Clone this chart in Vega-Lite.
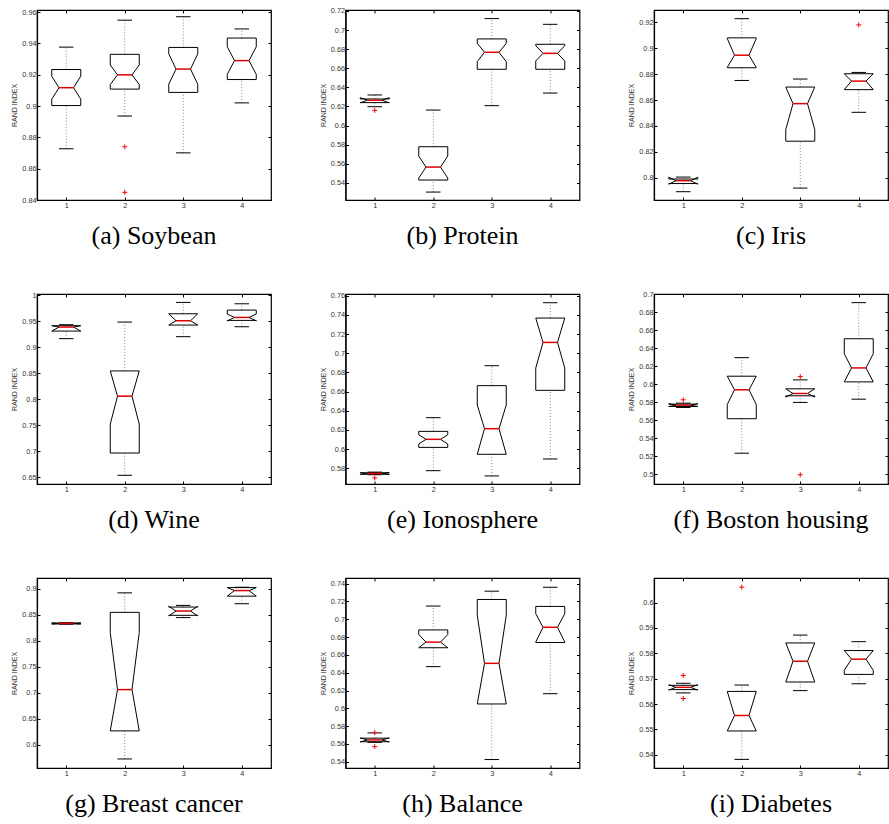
{
"$schema":"https://vega.github.io/schema/vega-lite/v6.json",
"background":"white",
"padding":{"left":10,"top":6,"right":0,"bottom":0},
"columns":3,
"bounds":"flush",
"spacing":{"row":94,"column":74.5},
"data":{"values":[
{"p":"a","g":1,"wlo":0.8727,"q1":0.9003,"nlo":0.9044,"med":0.9117,"nhi":0.919,"q3":0.9233,"whi":0.9376},
{"p":"a","g":2,"wlo":0.8936,"q1":0.9108,"nlo":0.9137,"med":0.9199,"nhi":0.9262,"q3":0.933,"whi":0.9548},
{"p":"a","g":3,"wlo":0.8701,"q1":0.9087,"nlo":0.9139,"med":0.9236,"nhi":0.9333,"q3":0.9374,"whi":0.957},
{"p":"a","g":4,"wlo":0.902,"q1":0.9169,"nlo":0.9202,"med":0.929,"nhi":0.9378,"q3":0.9434,"whi":0.9492},
{"p":"a","g":2,"o":0.874},{"p":"a","g":2,"o":0.8449},
{"p":"b","g":1,"wlo":0.6197,"q1":0.624,"nlo":0.6238,"med":0.6265,"nhi":0.6292,"q3":0.6278,"whi":0.632},
{"p":"b","g":2,"wlo":0.5303,"q1":0.5429,"nlo":0.545,"med":0.5565,"nhi":0.568,"q3":0.5778,"whi":0.6162},
{"p":"b","g":3,"wlo":0.6208,"q1":0.6589,"nlo":0.6669,"med":0.6767,"nhi":0.6861,"q3":0.6907,"whi":0.712},
{"p":"b","g":4,"wlo":0.634,"q1":0.6589,"nlo":0.6676,"med":0.6756,"nhi":0.6836,"q3":0.6851,"whi":0.706},
{"p":"b","g":1,"o":0.6159},
{"p":"c","g":1,"wlo":0.7892,"q1":0.7955,"nlo":0.795,"med":0.7977,"nhi":0.8004,"q3":0.799,"whi":0.8005},
{"p":"c","g":2,"wlo":0.8751,"q1":0.8849,"nlo":0.8852,"med":0.8946,"nhi":0.9075,"q3":0.908,"whi":0.9228},
{"p":"c","g":3,"wlo":0.792,"q1":0.8282,"nlo":0.8372,"med":0.8572,"nhi":0.87,"q3":0.87,"whi":0.8762},
{"p":"c","g":4,"wlo":0.8505,"q1":0.868,"nlo":0.868,"med":0.8746,"nhi":0.8803,"q3":0.8803,"whi":0.8813},
{"p":"c","g":4,"o":0.918},
{"p":"d","g":1,"wlo":0.9162,"q1":0.9308,"nlo":0.9308,"med":0.9385,"nhi":0.9411,"q3":0.9411,"whi":0.943},
{"p":"d","g":2,"wlo":0.6537,"q1":0.6965,"nlo":0.752,"med":0.8057,"nhi":0.8542,"q3":0.8542,"whi":0.9481},
{"p":"d","g":3,"wlo":0.92,"q1":0.9423,"nlo":0.9423,"med":0.9506,"nhi":0.964,"q3":0.964,"whi":0.9858},
{"p":"d","g":4,"wlo":0.9391,"q1":0.9513,"nlo":0.9503,"med":0.957,"nhi":0.9634,"q3":0.9711,"whi":0.9832},
{"p":"e","g":1,"wlo":0.5733,"q1":0.5738,"nlo":0.5735,"med":0.5745,"nhi":0.5755,"q3":0.5753,"whi":0.576},
{"p":"e","g":2,"wlo":0.5775,"q1":0.6018,"nlo":0.6053,"med":0.6102,"nhi":0.615,"q3":0.6185,"whi":0.6328},
{"p":"e","g":3,"wlo":0.572,"q1":0.5946,"nlo":0.5946,"med":0.6213,"nhi":0.646,"q3":0.6662,"whi":0.687},
{"p":"e","g":4,"wlo":0.5897,"q1":0.6613,"nlo":0.6846,"med":0.7113,"nhi":0.7367,"q3":0.7367,"whi":0.7527},
{"p":"e","g":1,"o":0.5699},
{"p":"f","g":1,"wlo":0.574,"q1":0.5751,"nlo":0.575,"med":0.5766,"nhi":0.5782,"q3":0.5777,"whi":0.5788},
{"p":"f","g":2,"wlo":0.5232,"q1":0.5615,"nlo":0.5773,"med":0.5936,"nhi":0.6087,"q3":0.6087,"whi":0.6293},
{"p":"f","g":3,"wlo":0.5796,"q1":0.5869,"nlo":0.5855,"med":0.5895,"nhi":0.5947,"q3":0.5947,"whi":0.6046},
{"p":"f","g":4,"wlo":0.5832,"q1":0.6024,"nlo":0.6024,"med":0.6179,"nhi":0.6337,"q3":0.6503,"whi":0.6904},
{"p":"f","g":1,"o":0.5825},{"p":"f","g":3,"o":0.6083},{"p":"f","g":3,"o":0.4993},
{"p":"g","g":1,"wlo":0.832,"q1":0.8326,"nlo":0.8323,"med":0.8334,"nhi":0.8345,"q3":0.8342,"whi":0.8348},
{"p":"g","g":2,"wlo":0.5724,"q1":0.6265,"nlo":0.6265,"med":0.706,"nhi":0.816,"q3":0.8548,"whi":0.8924},
{"p":"g","g":3,"wlo":0.8447,"q1":0.8491,"nlo":0.848,"med":0.8574,"nhi":0.8665,"q3":0.865,"whi":0.8682},
{"p":"g","g":4,"wlo":0.8714,"q1":0.886,"nlo":0.886,"med":0.8968,"nhi":0.9025,"q3":0.9025,"whi":0.9032},
{"p":"h","g":1,"wlo":0.5618,"q1":0.5625,"nlo":0.5622,"med":0.5645,"nhi":0.5668,"q3":0.5665,"whi":0.5724},
{"p":"h","g":2,"wlo":0.6468,"q1":0.668,"nlo":0.668,"med":0.6743,"nhi":0.6828,"q3":0.688,"whi":0.7148},
{"p":"h","g":3,"wlo":0.5425,"q1":0.6049,"nlo":0.6049,"med":0.6505,"nhi":0.7044,"q3":0.7222,"whi":0.7315},
{"p":"h","g":4,"wlo":0.6164,"q1":0.6739,"nlo":0.6745,"med":0.691,"nhi":0.7062,"q3":0.7144,"whi":0.7359},
{"p":"h","g":1,"o":0.5728},{"p":"h","g":1,"o":0.557},
{"p":"i","g":1,"wlo":0.5644,"q1":0.5657,"nlo":0.5655,"med":0.5666,"nhi":0.5676,"q3":0.5674,"whi":0.5682},
{"p":"i","g":2,"wlo":0.5382,"q1":0.5494,"nlo":0.5494,"med":0.5555,"nhi":0.565,"q3":0.565,"whi":0.5675},
{"p":"i","g":3,"wlo":0.5653,"q1":0.5687,"nlo":0.5687,"med":0.5769,"nhi":0.5841,"q3":0.5841,"whi":0.5872},
{"p":"i","g":4,"wlo":0.568,"q1":0.5717,"nlo":0.5733,"med":0.5777,"nhi":0.5811,"q3":0.5811,"whi":0.5846},
{"p":"i","g":1,"o":0.5713},{"p":"i","g":1,"o":0.5622},{"p":"i","g":2,"o":0.6061}
]},
"concat":[
{"width":234,"height":190,"title":"(a) Soybean","transform":[{"filter":"datum.p=='a'"}],"resolve":{"axis":{"x":"independent","y":"independent"}},
"layer":[{"encoding":{"x":{"field":"g","type":"quantitative","scale":{"domain":[0.5,4.5]},"axis":{"values":[1,2,3,4],"title":null}}},
"layer":[
{"mark":{"type":"rule","color":"#888","strokeDash":[1,2]},"encoding":{"y":{"field":"q3","type":"quantitative","scale":{"domain":[0.84,0.9613],"nice":false,"zero":false},"axis":{"values":[0.84,0.86,0.88,0.9,0.92,0.94,0.96],"tickCount":30,"title":"RAND INDEX"}},"y2":{"field":"whi"}}},
{"mark":{"type":"rule","color":"#888","strokeDash":[1,2]},"encoding":{"y":{"field":"wlo","type":"quantitative"},"y2":{"field":"q1"}}},
{"mark":{"type":"rule","xOffset":-7.25,"x2Offset":7.25},"encoding":{"x2":{"field":"g"},"y":{"field":"whi","type":"quantitative"}}},
{"mark":{"type":"rule","xOffset":-7.25,"x2Offset":7.25},"encoding":{"x2":{"field":"g"},"y":{"field":"wlo","type":"quantitative"}}},
{"mark":{"type":"rule","xOffset":-14.5,"x2Offset":14.5},"encoding":{"x2":{"field":"g"},"y":{"field":"q3","type":"quantitative"}}},
{"mark":{"type":"rule","xOffset":-14.5,"x2Offset":14.5},"encoding":{"x2":{"field":"g"},"y":{"field":"q1","type":"quantitative"}}},
{"mark":{"type":"rule","xOffset":-14.5},"encoding":{"y":{"field":"q3","type":"quantitative"},"y2":{"field":"nhi"}}},
{"mark":{"type":"rule","xOffset":14.5},"encoding":{"y":{"field":"q3","type":"quantitative"},"y2":{"field":"nhi"}}},
{"mark":{"type":"rule","xOffset":-14.5},"encoding":{"y":{"field":"nlo","type":"quantitative"},"y2":{"field":"q1"}}},
{"mark":{"type":"rule","xOffset":14.5},"encoding":{"y":{"field":"nlo","type":"quantitative"},"y2":{"field":"q1"}}},
{"mark":{"type":"rule","xOffset":-14.5,"x2Offset":-7.25},"encoding":{"x2":{"field":"g"},"y":{"field":"nhi","type":"quantitative"},"y2":{"field":"med"}}},
{"mark":{"type":"rule","xOffset":14.5,"x2Offset":7.25},"encoding":{"x2":{"field":"g"},"y":{"field":"nhi","type":"quantitative"},"y2":{"field":"med"}}},
{"mark":{"type":"rule","xOffset":-14.5,"x2Offset":-7.25},"encoding":{"x2":{"field":"g"},"y":{"field":"nlo","type":"quantitative"},"y2":{"field":"med"}}},
{"mark":{"type":"rule","xOffset":14.5,"x2Offset":7.25},"encoding":{"x2":{"field":"g"},"y":{"field":"nlo","type":"quantitative"},"y2":{"field":"med"}}},
{"mark":{"type":"rule","color":"#e00000","strokeWidth":1.5,"xOffset":-7.25,"x2Offset":7.25},"encoding":{"x2":{"field":"g"},"y":{"field":"med","type":"quantitative"}}},
{"mark":{"type":"point","shape":"M-1,0H1M0,-1V1","filled":false,"color":"#ff0000","strokeWidth":1,"size":25,"opacity":1},"encoding":{"y":{"field":"o","type":"quantitative"}}}
]},
{"mark":{"type":"point","opacity":0},"encoding":{"x":{"field":"g","type":"quantitative","axis":{"orient":"top","labels":false,"domain":false,"title":null,"values":[1,2,3,4]}},"y":{"field":"q3","type":"quantitative","axis":{"orient":"right","labels":false,"domain":false,"title":null,"tickCount":30,"values":[0.84,0.86,0.88,0.9,0.92,0.94,0.96]}}}}
]},
{"width":234,"height":190,"title":"(b) Protein","transform":[{"filter":"datum.p=='b'"}],"resolve":{"axis":{"x":"independent","y":"independent"}},
"layer":[{"encoding":{"x":{"field":"g","type":"quantitative","scale":{"domain":[0.5,4.5]},"axis":{"values":[1,2,3,4],"title":null}}},
"layer":[
{"mark":{"type":"rule","color":"#888","strokeDash":[1,2]},"encoding":{"y":{"field":"q3","type":"quantitative","scale":{"domain":[0.522,0.721],"nice":false,"zero":false},"axis":{"values":[0.54,0.56,0.58,0.6,0.62,0.64,0.66,0.68,0.7,0.72],"tickCount":30,"title":"RAND INDEX"}},"y2":{"field":"whi"}}},
{"mark":{"type":"rule","color":"#888","strokeDash":[1,2]},"encoding":{"y":{"field":"wlo","type":"quantitative"},"y2":{"field":"q1"}}},
{"mark":{"type":"rule","xOffset":-7.25,"x2Offset":7.25},"encoding":{"x2":{"field":"g"},"y":{"field":"whi","type":"quantitative"}}},
{"mark":{"type":"rule","xOffset":-7.25,"x2Offset":7.25},"encoding":{"x2":{"field":"g"},"y":{"field":"wlo","type":"quantitative"}}},
{"mark":{"type":"rule","xOffset":-14.5,"x2Offset":14.5},"encoding":{"x2":{"field":"g"},"y":{"field":"q3","type":"quantitative"}}},
{"mark":{"type":"rule","xOffset":-14.5,"x2Offset":14.5},"encoding":{"x2":{"field":"g"},"y":{"field":"q1","type":"quantitative"}}},
{"mark":{"type":"rule","xOffset":-14.5},"encoding":{"y":{"field":"q3","type":"quantitative"},"y2":{"field":"nhi"}}},
{"mark":{"type":"rule","xOffset":14.5},"encoding":{"y":{"field":"q3","type":"quantitative"},"y2":{"field":"nhi"}}},
{"mark":{"type":"rule","xOffset":-14.5},"encoding":{"y":{"field":"nlo","type":"quantitative"},"y2":{"field":"q1"}}},
{"mark":{"type":"rule","xOffset":14.5},"encoding":{"y":{"field":"nlo","type":"quantitative"},"y2":{"field":"q1"}}},
{"mark":{"type":"rule","xOffset":-14.5,"x2Offset":-7.25},"encoding":{"x2":{"field":"g"},"y":{"field":"nhi","type":"quantitative"},"y2":{"field":"med"}}},
{"mark":{"type":"rule","xOffset":14.5,"x2Offset":7.25},"encoding":{"x2":{"field":"g"},"y":{"field":"nhi","type":"quantitative"},"y2":{"field":"med"}}},
{"mark":{"type":"rule","xOffset":-14.5,"x2Offset":-7.25},"encoding":{"x2":{"field":"g"},"y":{"field":"nlo","type":"quantitative"},"y2":{"field":"med"}}},
{"mark":{"type":"rule","xOffset":14.5,"x2Offset":7.25},"encoding":{"x2":{"field":"g"},"y":{"field":"nlo","type":"quantitative"},"y2":{"field":"med"}}},
{"mark":{"type":"rule","color":"#e00000","strokeWidth":1.5,"xOffset":-7.25,"x2Offset":7.25},"encoding":{"x2":{"field":"g"},"y":{"field":"med","type":"quantitative"}}},
{"mark":{"type":"point","shape":"M-1,0H1M0,-1V1","filled":false,"color":"#ff0000","strokeWidth":1,"size":25,"opacity":1},"encoding":{"y":{"field":"o","type":"quantitative"}}}
]},
{"mark":{"type":"point","opacity":0},"encoding":{"x":{"field":"g","type":"quantitative","axis":{"orient":"top","labels":false,"domain":false,"title":null,"values":[1,2,3,4]}},"y":{"field":"q3","type":"quantitative","axis":{"orient":"right","labels":false,"domain":false,"title":null,"tickCount":30,"values":[0.54,0.56,0.58,0.6,0.62,0.64,0.66,0.68,0.7,0.72]}}}}
]},
{"width":234,"height":190,"title":"(c) Iris","transform":[{"filter":"datum.p=='c'"}],"resolve":{"axis":{"x":"independent","y":"independent"}},
"layer":[{"encoding":{"x":{"field":"g","type":"quantitative","scale":{"domain":[0.5,4.5]},"axis":{"values":[1,2,3,4],"title":null}}},
"layer":[
{"mark":{"type":"rule","color":"#888","strokeDash":[1,2]},"encoding":{"y":{"field":"q3","type":"quantitative","scale":{"domain":[0.7828,0.9295],"nice":false,"zero":false},"axis":{"values":[0.8,0.82,0.84,0.86,0.88,0.9,0.92],"tickCount":30,"title":"RAND INDEX"}},"y2":{"field":"whi"}}},
{"mark":{"type":"rule","color":"#888","strokeDash":[1,2]},"encoding":{"y":{"field":"wlo","type":"quantitative"},"y2":{"field":"q1"}}},
{"mark":{"type":"rule","xOffset":-7.25,"x2Offset":7.25},"encoding":{"x2":{"field":"g"},"y":{"field":"whi","type":"quantitative"}}},
{"mark":{"type":"rule","xOffset":-7.25,"x2Offset":7.25},"encoding":{"x2":{"field":"g"},"y":{"field":"wlo","type":"quantitative"}}},
{"mark":{"type":"rule","xOffset":-14.5,"x2Offset":14.5},"encoding":{"x2":{"field":"g"},"y":{"field":"q3","type":"quantitative"}}},
{"mark":{"type":"rule","xOffset":-14.5,"x2Offset":14.5},"encoding":{"x2":{"field":"g"},"y":{"field":"q1","type":"quantitative"}}},
{"mark":{"type":"rule","xOffset":-14.5},"encoding":{"y":{"field":"q3","type":"quantitative"},"y2":{"field":"nhi"}}},
{"mark":{"type":"rule","xOffset":14.5},"encoding":{"y":{"field":"q3","type":"quantitative"},"y2":{"field":"nhi"}}},
{"mark":{"type":"rule","xOffset":-14.5},"encoding":{"y":{"field":"nlo","type":"quantitative"},"y2":{"field":"q1"}}},
{"mark":{"type":"rule","xOffset":14.5},"encoding":{"y":{"field":"nlo","type":"quantitative"},"y2":{"field":"q1"}}},
{"mark":{"type":"rule","xOffset":-14.5,"x2Offset":-7.25},"encoding":{"x2":{"field":"g"},"y":{"field":"nhi","type":"quantitative"},"y2":{"field":"med"}}},
{"mark":{"type":"rule","xOffset":14.5,"x2Offset":7.25},"encoding":{"x2":{"field":"g"},"y":{"field":"nhi","type":"quantitative"},"y2":{"field":"med"}}},
{"mark":{"type":"rule","xOffset":-14.5,"x2Offset":-7.25},"encoding":{"x2":{"field":"g"},"y":{"field":"nlo","type":"quantitative"},"y2":{"field":"med"}}},
{"mark":{"type":"rule","xOffset":14.5,"x2Offset":7.25},"encoding":{"x2":{"field":"g"},"y":{"field":"nlo","type":"quantitative"},"y2":{"field":"med"}}},
{"mark":{"type":"rule","color":"#e00000","strokeWidth":1.5,"xOffset":-7.25,"x2Offset":7.25},"encoding":{"x2":{"field":"g"},"y":{"field":"med","type":"quantitative"}}},
{"mark":{"type":"point","shape":"M-1,0H1M0,-1V1","filled":false,"color":"#ff0000","strokeWidth":1,"size":25,"opacity":1},"encoding":{"y":{"field":"o","type":"quantitative"}}}
]},
{"mark":{"type":"point","opacity":0},"encoding":{"x":{"field":"g","type":"quantitative","axis":{"orient":"top","labels":false,"domain":false,"title":null,"values":[1,2,3,4]}},"y":{"field":"q3","type":"quantitative","axis":{"orient":"right","labels":false,"domain":false,"title":null,"tickCount":30,"values":[0.8,0.82,0.84,0.86,0.88,0.9,0.92]}}}}
]},
{"width":234,"height":190,"title":"(d) Wine","transform":[{"filter":"datum.p=='d'"}],"resolve":{"axis":{"x":"independent","y":"independent"}},
"layer":[{"encoding":{"x":{"field":"g","type":"quantitative","scale":{"domain":[0.5,4.5]},"axis":{"values":[1,2,3,4],"title":null}}},
"layer":[
{"mark":{"type":"rule","color":"#888","strokeDash":[1,2]},"encoding":{"y":{"field":"q3","type":"quantitative","scale":{"domain":[0.637,1.002],"nice":false,"zero":false},"axis":{"values":[0.65,0.7,0.75,0.8,0.85,0.9,0.95,1],"tickCount":30,"title":"RAND INDEX"}},"y2":{"field":"whi"}}},
{"mark":{"type":"rule","color":"#888","strokeDash":[1,2]},"encoding":{"y":{"field":"wlo","type":"quantitative"},"y2":{"field":"q1"}}},
{"mark":{"type":"rule","xOffset":-7.25,"x2Offset":7.25},"encoding":{"x2":{"field":"g"},"y":{"field":"whi","type":"quantitative"}}},
{"mark":{"type":"rule","xOffset":-7.25,"x2Offset":7.25},"encoding":{"x2":{"field":"g"},"y":{"field":"wlo","type":"quantitative"}}},
{"mark":{"type":"rule","xOffset":-14.5,"x2Offset":14.5},"encoding":{"x2":{"field":"g"},"y":{"field":"q3","type":"quantitative"}}},
{"mark":{"type":"rule","xOffset":-14.5,"x2Offset":14.5},"encoding":{"x2":{"field":"g"},"y":{"field":"q1","type":"quantitative"}}},
{"mark":{"type":"rule","xOffset":-14.5},"encoding":{"y":{"field":"q3","type":"quantitative"},"y2":{"field":"nhi"}}},
{"mark":{"type":"rule","xOffset":14.5},"encoding":{"y":{"field":"q3","type":"quantitative"},"y2":{"field":"nhi"}}},
{"mark":{"type":"rule","xOffset":-14.5},"encoding":{"y":{"field":"nlo","type":"quantitative"},"y2":{"field":"q1"}}},
{"mark":{"type":"rule","xOffset":14.5},"encoding":{"y":{"field":"nlo","type":"quantitative"},"y2":{"field":"q1"}}},
{"mark":{"type":"rule","xOffset":-14.5,"x2Offset":-7.25},"encoding":{"x2":{"field":"g"},"y":{"field":"nhi","type":"quantitative"},"y2":{"field":"med"}}},
{"mark":{"type":"rule","xOffset":14.5,"x2Offset":7.25},"encoding":{"x2":{"field":"g"},"y":{"field":"nhi","type":"quantitative"},"y2":{"field":"med"}}},
{"mark":{"type":"rule","xOffset":-14.5,"x2Offset":-7.25},"encoding":{"x2":{"field":"g"},"y":{"field":"nlo","type":"quantitative"},"y2":{"field":"med"}}},
{"mark":{"type":"rule","xOffset":14.5,"x2Offset":7.25},"encoding":{"x2":{"field":"g"},"y":{"field":"nlo","type":"quantitative"},"y2":{"field":"med"}}},
{"mark":{"type":"rule","color":"#e00000","strokeWidth":1.5,"xOffset":-7.25,"x2Offset":7.25},"encoding":{"x2":{"field":"g"},"y":{"field":"med","type":"quantitative"}}}
]},
{"mark":{"type":"point","opacity":0},"encoding":{"x":{"field":"g","type":"quantitative","axis":{"orient":"top","labels":false,"domain":false,"title":null,"values":[1,2,3,4]}},"y":{"field":"q3","type":"quantitative","axis":{"orient":"right","labels":false,"domain":false,"title":null,"tickCount":30,"values":[0.65,0.7,0.75,0.8,0.85,0.9,0.95,1]}}}}
]},
{"width":234,"height":190,"title":"(e) Ionosphere","transform":[{"filter":"datum.p=='e'"}],"resolve":{"axis":{"x":"independent","y":"independent"}},
"layer":[{"encoding":{"x":{"field":"g","type":"quantitative","scale":{"domain":[0.5,4.5]},"axis":{"values":[1,2,3,4],"title":null}}},
"layer":[
{"mark":{"type":"rule","color":"#888","strokeDash":[1,2]},"encoding":{"y":{"field":"q3","type":"quantitative","scale":{"domain":[0.5636,0.7618],"nice":false,"zero":false},"axis":{"values":[0.58,0.6,0.62,0.64,0.66,0.68,0.7,0.72,0.74,0.76],"tickCount":30,"title":"RAND INDEX"}},"y2":{"field":"whi"}}},
{"mark":{"type":"rule","color":"#888","strokeDash":[1,2]},"encoding":{"y":{"field":"wlo","type":"quantitative"},"y2":{"field":"q1"}}},
{"mark":{"type":"rule","xOffset":-7.25,"x2Offset":7.25},"encoding":{"x2":{"field":"g"},"y":{"field":"whi","type":"quantitative"}}},
{"mark":{"type":"rule","xOffset":-7.25,"x2Offset":7.25},"encoding":{"x2":{"field":"g"},"y":{"field":"wlo","type":"quantitative"}}},
{"mark":{"type":"rule","xOffset":-14.5,"x2Offset":14.5},"encoding":{"x2":{"field":"g"},"y":{"field":"q3","type":"quantitative"}}},
{"mark":{"type":"rule","xOffset":-14.5,"x2Offset":14.5},"encoding":{"x2":{"field":"g"},"y":{"field":"q1","type":"quantitative"}}},
{"mark":{"type":"rule","xOffset":-14.5},"encoding":{"y":{"field":"q3","type":"quantitative"},"y2":{"field":"nhi"}}},
{"mark":{"type":"rule","xOffset":14.5},"encoding":{"y":{"field":"q3","type":"quantitative"},"y2":{"field":"nhi"}}},
{"mark":{"type":"rule","xOffset":-14.5},"encoding":{"y":{"field":"nlo","type":"quantitative"},"y2":{"field":"q1"}}},
{"mark":{"type":"rule","xOffset":14.5},"encoding":{"y":{"field":"nlo","type":"quantitative"},"y2":{"field":"q1"}}},
{"mark":{"type":"rule","xOffset":-14.5,"x2Offset":-7.25},"encoding":{"x2":{"field":"g"},"y":{"field":"nhi","type":"quantitative"},"y2":{"field":"med"}}},
{"mark":{"type":"rule","xOffset":14.5,"x2Offset":7.25},"encoding":{"x2":{"field":"g"},"y":{"field":"nhi","type":"quantitative"},"y2":{"field":"med"}}},
{"mark":{"type":"rule","xOffset":-14.5,"x2Offset":-7.25},"encoding":{"x2":{"field":"g"},"y":{"field":"nlo","type":"quantitative"},"y2":{"field":"med"}}},
{"mark":{"type":"rule","xOffset":14.5,"x2Offset":7.25},"encoding":{"x2":{"field":"g"},"y":{"field":"nlo","type":"quantitative"},"y2":{"field":"med"}}},
{"mark":{"type":"rule","color":"#e00000","strokeWidth":1.5,"xOffset":-7.25,"x2Offset":7.25},"encoding":{"x2":{"field":"g"},"y":{"field":"med","type":"quantitative"}}},
{"mark":{"type":"point","shape":"M-1,0H1M0,-1V1","filled":false,"color":"#ff0000","strokeWidth":1,"size":25,"opacity":1},"encoding":{"y":{"field":"o","type":"quantitative"}}}
]},
{"mark":{"type":"point","opacity":0},"encoding":{"x":{"field":"g","type":"quantitative","axis":{"orient":"top","labels":false,"domain":false,"title":null,"values":[1,2,3,4]}},"y":{"field":"q3","type":"quantitative","axis":{"orient":"right","labels":false,"domain":false,"title":null,"tickCount":30,"values":[0.58,0.6,0.62,0.64,0.66,0.68,0.7,0.72,0.74,0.76]}}}}
]},
{"width":234,"height":190,"title":"(f) Boston housing","transform":[{"filter":"datum.p=='f'"}],"resolve":{"axis":{"x":"independent","y":"independent"}},
"layer":[{"encoding":{"x":{"field":"g","type":"quantitative","scale":{"domain":[0.5,4.5]},"axis":{"values":[1,2,3,4],"title":null}}},
"layer":[
{"mark":{"type":"rule","color":"#888","strokeDash":[1,2]},"encoding":{"y":{"field":"q3","type":"quantitative","scale":{"domain":[0.489,0.7],"nice":false,"zero":false},"axis":{"values":[0.5,0.52,0.54,0.56,0.58,0.6,0.62,0.64,0.66,0.68,0.7],"tickCount":30,"title":"RAND INDEX"}},"y2":{"field":"whi"}}},
{"mark":{"type":"rule","color":"#888","strokeDash":[1,2]},"encoding":{"y":{"field":"wlo","type":"quantitative"},"y2":{"field":"q1"}}},
{"mark":{"type":"rule","xOffset":-7.25,"x2Offset":7.25},"encoding":{"x2":{"field":"g"},"y":{"field":"whi","type":"quantitative"}}},
{"mark":{"type":"rule","xOffset":-7.25,"x2Offset":7.25},"encoding":{"x2":{"field":"g"},"y":{"field":"wlo","type":"quantitative"}}},
{"mark":{"type":"rule","xOffset":-14.5,"x2Offset":14.5},"encoding":{"x2":{"field":"g"},"y":{"field":"q3","type":"quantitative"}}},
{"mark":{"type":"rule","xOffset":-14.5,"x2Offset":14.5},"encoding":{"x2":{"field":"g"},"y":{"field":"q1","type":"quantitative"}}},
{"mark":{"type":"rule","xOffset":-14.5},"encoding":{"y":{"field":"q3","type":"quantitative"},"y2":{"field":"nhi"}}},
{"mark":{"type":"rule","xOffset":14.5},"encoding":{"y":{"field":"q3","type":"quantitative"},"y2":{"field":"nhi"}}},
{"mark":{"type":"rule","xOffset":-14.5},"encoding":{"y":{"field":"nlo","type":"quantitative"},"y2":{"field":"q1"}}},
{"mark":{"type":"rule","xOffset":14.5},"encoding":{"y":{"field":"nlo","type":"quantitative"},"y2":{"field":"q1"}}},
{"mark":{"type":"rule","xOffset":-14.5,"x2Offset":-7.25},"encoding":{"x2":{"field":"g"},"y":{"field":"nhi","type":"quantitative"},"y2":{"field":"med"}}},
{"mark":{"type":"rule","xOffset":14.5,"x2Offset":7.25},"encoding":{"x2":{"field":"g"},"y":{"field":"nhi","type":"quantitative"},"y2":{"field":"med"}}},
{"mark":{"type":"rule","xOffset":-14.5,"x2Offset":-7.25},"encoding":{"x2":{"field":"g"},"y":{"field":"nlo","type":"quantitative"},"y2":{"field":"med"}}},
{"mark":{"type":"rule","xOffset":14.5,"x2Offset":7.25},"encoding":{"x2":{"field":"g"},"y":{"field":"nlo","type":"quantitative"},"y2":{"field":"med"}}},
{"mark":{"type":"rule","color":"#e00000","strokeWidth":1.5,"xOffset":-7.25,"x2Offset":7.25},"encoding":{"x2":{"field":"g"},"y":{"field":"med","type":"quantitative"}}},
{"mark":{"type":"point","shape":"M-1,0H1M0,-1V1","filled":false,"color":"#ff0000","strokeWidth":1,"size":25,"opacity":1},"encoding":{"y":{"field":"o","type":"quantitative"}}}
]},
{"mark":{"type":"point","opacity":0},"encoding":{"x":{"field":"g","type":"quantitative","axis":{"orient":"top","labels":false,"domain":false,"title":null,"values":[1,2,3,4]}},"y":{"field":"q3","type":"quantitative","axis":{"orient":"right","labels":false,"domain":false,"title":null,"tickCount":30,"values":[0.5,0.52,0.54,0.56,0.58,0.6,0.62,0.64,0.66,0.68,0.7]}}}}
]},
{"width":234,"height":190,"title":"(g) Breast cancer","transform":[{"filter":"datum.p=='g'"}],"resolve":{"axis":{"x":"independent","y":"independent"}},
"layer":[{"encoding":{"x":{"field":"g","type":"quantitative","scale":{"domain":[0.5,4.5]},"axis":{"values":[1,2,3,4],"title":null}}},
"layer":[
{"mark":{"type":"rule","color":"#888","strokeDash":[1,2]},"encoding":{"y":{"field":"q3","type":"quantitative","scale":{"domain":[0.555,0.921],"nice":false,"zero":false},"axis":{"values":[0.6,0.65,0.7,0.75,0.8,0.85,0.9],"tickCount":30,"title":"RAND INDEX"}},"y2":{"field":"whi"}}},
{"mark":{"type":"rule","color":"#888","strokeDash":[1,2]},"encoding":{"y":{"field":"wlo","type":"quantitative"},"y2":{"field":"q1"}}},
{"mark":{"type":"rule","xOffset":-7.25,"x2Offset":7.25},"encoding":{"x2":{"field":"g"},"y":{"field":"whi","type":"quantitative"}}},
{"mark":{"type":"rule","xOffset":-7.25,"x2Offset":7.25},"encoding":{"x2":{"field":"g"},"y":{"field":"wlo","type":"quantitative"}}},
{"mark":{"type":"rule","xOffset":-14.5,"x2Offset":14.5},"encoding":{"x2":{"field":"g"},"y":{"field":"q3","type":"quantitative"}}},
{"mark":{"type":"rule","xOffset":-14.5,"x2Offset":14.5},"encoding":{"x2":{"field":"g"},"y":{"field":"q1","type":"quantitative"}}},
{"mark":{"type":"rule","xOffset":-14.5},"encoding":{"y":{"field":"q3","type":"quantitative"},"y2":{"field":"nhi"}}},
{"mark":{"type":"rule","xOffset":14.5},"encoding":{"y":{"field":"q3","type":"quantitative"},"y2":{"field":"nhi"}}},
{"mark":{"type":"rule","xOffset":-14.5},"encoding":{"y":{"field":"nlo","type":"quantitative"},"y2":{"field":"q1"}}},
{"mark":{"type":"rule","xOffset":14.5},"encoding":{"y":{"field":"nlo","type":"quantitative"},"y2":{"field":"q1"}}},
{"mark":{"type":"rule","xOffset":-14.5,"x2Offset":-7.25},"encoding":{"x2":{"field":"g"},"y":{"field":"nhi","type":"quantitative"},"y2":{"field":"med"}}},
{"mark":{"type":"rule","xOffset":14.5,"x2Offset":7.25},"encoding":{"x2":{"field":"g"},"y":{"field":"nhi","type":"quantitative"},"y2":{"field":"med"}}},
{"mark":{"type":"rule","xOffset":-14.5,"x2Offset":-7.25},"encoding":{"x2":{"field":"g"},"y":{"field":"nlo","type":"quantitative"},"y2":{"field":"med"}}},
{"mark":{"type":"rule","xOffset":14.5,"x2Offset":7.25},"encoding":{"x2":{"field":"g"},"y":{"field":"nlo","type":"quantitative"},"y2":{"field":"med"}}},
{"mark":{"type":"rule","color":"#e00000","strokeWidth":1.5,"xOffset":-7.25,"x2Offset":7.25},"encoding":{"x2":{"field":"g"},"y":{"field":"med","type":"quantitative"}}}
]},
{"mark":{"type":"point","opacity":0},"encoding":{"x":{"field":"g","type":"quantitative","axis":{"orient":"top","labels":false,"domain":false,"title":null,"values":[1,2,3,4]}},"y":{"field":"q3","type":"quantitative","axis":{"orient":"right","labels":false,"domain":false,"title":null,"tickCount":30,"values":[0.6,0.65,0.7,0.75,0.8,0.85,0.9]}}}}
]},
{"width":234,"height":190,"title":"(h) Balance","transform":[{"filter":"datum.p=='h'"}],"resolve":{"axis":{"x":"independent","y":"independent"}},
"layer":[{"encoding":{"x":{"field":"g","type":"quantitative","scale":{"domain":[0.5,4.5]},"axis":{"values":[1,2,3,4],"title":null}}},
"layer":[
{"mark":{"type":"rule","color":"#888","strokeDash":[1,2]},"encoding":{"y":{"field":"q3","type":"quantitative","scale":{"domain":[0.533,0.7463],"nice":false,"zero":false},"axis":{"values":[0.54,0.56,0.58,0.6,0.62,0.64,0.66,0.68,0.7,0.72,0.74],"tickCount":30,"title":"RAND INDEX"}},"y2":{"field":"whi"}}},
{"mark":{"type":"rule","color":"#888","strokeDash":[1,2]},"encoding":{"y":{"field":"wlo","type":"quantitative"},"y2":{"field":"q1"}}},
{"mark":{"type":"rule","xOffset":-7.25,"x2Offset":7.25},"encoding":{"x2":{"field":"g"},"y":{"field":"whi","type":"quantitative"}}},
{"mark":{"type":"rule","xOffset":-7.25,"x2Offset":7.25},"encoding":{"x2":{"field":"g"},"y":{"field":"wlo","type":"quantitative"}}},
{"mark":{"type":"rule","xOffset":-14.5,"x2Offset":14.5},"encoding":{"x2":{"field":"g"},"y":{"field":"q3","type":"quantitative"}}},
{"mark":{"type":"rule","xOffset":-14.5,"x2Offset":14.5},"encoding":{"x2":{"field":"g"},"y":{"field":"q1","type":"quantitative"}}},
{"mark":{"type":"rule","xOffset":-14.5},"encoding":{"y":{"field":"q3","type":"quantitative"},"y2":{"field":"nhi"}}},
{"mark":{"type":"rule","xOffset":14.5},"encoding":{"y":{"field":"q3","type":"quantitative"},"y2":{"field":"nhi"}}},
{"mark":{"type":"rule","xOffset":-14.5},"encoding":{"y":{"field":"nlo","type":"quantitative"},"y2":{"field":"q1"}}},
{"mark":{"type":"rule","xOffset":14.5},"encoding":{"y":{"field":"nlo","type":"quantitative"},"y2":{"field":"q1"}}},
{"mark":{"type":"rule","xOffset":-14.5,"x2Offset":-7.25},"encoding":{"x2":{"field":"g"},"y":{"field":"nhi","type":"quantitative"},"y2":{"field":"med"}}},
{"mark":{"type":"rule","xOffset":14.5,"x2Offset":7.25},"encoding":{"x2":{"field":"g"},"y":{"field":"nhi","type":"quantitative"},"y2":{"field":"med"}}},
{"mark":{"type":"rule","xOffset":-14.5,"x2Offset":-7.25},"encoding":{"x2":{"field":"g"},"y":{"field":"nlo","type":"quantitative"},"y2":{"field":"med"}}},
{"mark":{"type":"rule","xOffset":14.5,"x2Offset":7.25},"encoding":{"x2":{"field":"g"},"y":{"field":"nlo","type":"quantitative"},"y2":{"field":"med"}}},
{"mark":{"type":"rule","color":"#e00000","strokeWidth":1.5,"xOffset":-7.25,"x2Offset":7.25},"encoding":{"x2":{"field":"g"},"y":{"field":"med","type":"quantitative"}}},
{"mark":{"type":"point","shape":"M-1,0H1M0,-1V1","filled":false,"color":"#ff0000","strokeWidth":1,"size":25,"opacity":1},"encoding":{"y":{"field":"o","type":"quantitative"}}}
]},
{"mark":{"type":"point","opacity":0},"encoding":{"x":{"field":"g","type":"quantitative","axis":{"orient":"top","labels":false,"domain":false,"title":null,"values":[1,2,3,4]}},"y":{"field":"q3","type":"quantitative","axis":{"orient":"right","labels":false,"domain":false,"title":null,"tickCount":30,"values":[0.54,0.56,0.58,0.6,0.62,0.64,0.66,0.68,0.7,0.72,0.74]}}}}
]},
{"width":234,"height":190,"title":"(i) Diabetes","transform":[{"filter":"datum.p=='i'"}],"resolve":{"axis":{"x":"independent","y":"independent"}},
"layer":[{"encoding":{"x":{"field":"g","type":"quantitative","scale":{"domain":[0.5,4.5]},"axis":{"values":[1,2,3,4],"title":null}}},
"layer":[
{"mark":{"type":"rule","color":"#888","strokeDash":[1,2]},"encoding":{"y":{"field":"q3","type":"quantitative","scale":{"domain":[0.5348,0.6097],"nice":false,"zero":false},"axis":{"values":[0.54,0.55,0.56,0.57,0.58,0.59,0.6],"tickCount":30,"title":"RAND INDEX"}},"y2":{"field":"whi"}}},
{"mark":{"type":"rule","color":"#888","strokeDash":[1,2]},"encoding":{"y":{"field":"wlo","type":"quantitative"},"y2":{"field":"q1"}}},
{"mark":{"type":"rule","xOffset":-7.25,"x2Offset":7.25},"encoding":{"x2":{"field":"g"},"y":{"field":"whi","type":"quantitative"}}},
{"mark":{"type":"rule","xOffset":-7.25,"x2Offset":7.25},"encoding":{"x2":{"field":"g"},"y":{"field":"wlo","type":"quantitative"}}},
{"mark":{"type":"rule","xOffset":-14.5,"x2Offset":14.5},"encoding":{"x2":{"field":"g"},"y":{"field":"q3","type":"quantitative"}}},
{"mark":{"type":"rule","xOffset":-14.5,"x2Offset":14.5},"encoding":{"x2":{"field":"g"},"y":{"field":"q1","type":"quantitative"}}},
{"mark":{"type":"rule","xOffset":-14.5},"encoding":{"y":{"field":"q3","type":"quantitative"},"y2":{"field":"nhi"}}},
{"mark":{"type":"rule","xOffset":14.5},"encoding":{"y":{"field":"q3","type":"quantitative"},"y2":{"field":"nhi"}}},
{"mark":{"type":"rule","xOffset":-14.5},"encoding":{"y":{"field":"nlo","type":"quantitative"},"y2":{"field":"q1"}}},
{"mark":{"type":"rule","xOffset":14.5},"encoding":{"y":{"field":"nlo","type":"quantitative"},"y2":{"field":"q1"}}},
{"mark":{"type":"rule","xOffset":-14.5,"x2Offset":-7.25},"encoding":{"x2":{"field":"g"},"y":{"field":"nhi","type":"quantitative"},"y2":{"field":"med"}}},
{"mark":{"type":"rule","xOffset":14.5,"x2Offset":7.25},"encoding":{"x2":{"field":"g"},"y":{"field":"nhi","type":"quantitative"},"y2":{"field":"med"}}},
{"mark":{"type":"rule","xOffset":-14.5,"x2Offset":-7.25},"encoding":{"x2":{"field":"g"},"y":{"field":"nlo","type":"quantitative"},"y2":{"field":"med"}}},
{"mark":{"type":"rule","xOffset":14.5,"x2Offset":7.25},"encoding":{"x2":{"field":"g"},"y":{"field":"nlo","type":"quantitative"},"y2":{"field":"med"}}},
{"mark":{"type":"rule","color":"#e00000","strokeWidth":1.5,"xOffset":-7.25,"x2Offset":7.25},"encoding":{"x2":{"field":"g"},"y":{"field":"med","type":"quantitative"}}},
{"mark":{"type":"point","shape":"M-1,0H1M0,-1V1","filled":false,"color":"#ff0000","strokeWidth":1,"size":25,"opacity":1},"encoding":{"y":{"field":"o","type":"quantitative"}}}
]},
{"mark":{"type":"point","opacity":0},"encoding":{"x":{"field":"g","type":"quantitative","axis":{"orient":"top","labels":false,"domain":false,"title":null,"values":[1,2,3,4]}},"y":{"field":"q3","type":"quantitative","axis":{"orient":"right","labels":false,"domain":false,"title":null,"tickCount":30,"values":[0.54,0.55,0.56,0.57,0.58,0.59,0.6]}}}}
]}
],
"config":{
"numberFormat":".2~f",
"view":{"stroke":"#000","strokeWidth":1.2},
"rule":{"color":"#000","strokeWidth":1},
"axis":{"grid":false,"labelOverlap":false,"labelFont":"Liberation Sans","labelFontSize":7.3,"labelColor":"#333","tickColor":"#000","tickSize":-3,"labelPadding":4,"domainColor":"#000","domainWidth":1.2,"titleFont":"Liberation Sans","titleFontSize":7,"titleFontWeight":"normal","titleColor":"#333","titlePadding":4},
"title":{"font":"Liberation Serif","fontSize":26,"fontWeight":"normal","orient":"bottom","color":"#000","offset":15}
}
}
